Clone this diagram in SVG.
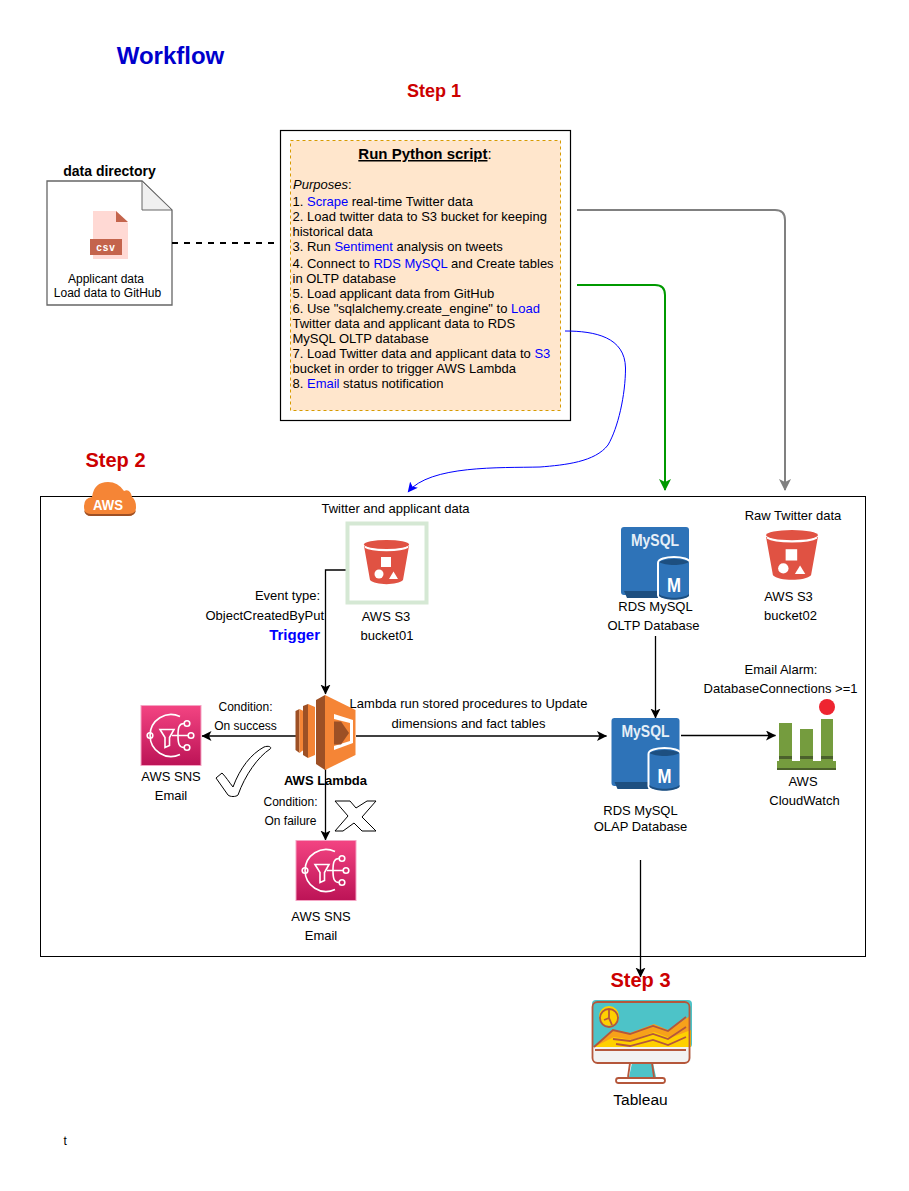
<svg xmlns="http://www.w3.org/2000/svg" width="909" height="1191" viewBox="0 0 909 1191">
<style>
text{font-family:"Liberation Sans",Arial,sans-serif;fill:#000;font-size:13px}
.m{text-anchor:middle}
.s{font-size:13px}
.l12{font-size:12px}
.step{font-size:20px;font-weight:bold;fill:#cc0000;text-anchor:middle}
.b{fill:#0000ff}
.c{fill:none;stroke:#000;stroke-width:1.300}
.bucket{fill:#e05243}
.sns{fill:none;stroke:#fff;stroke-width:1.600}
</style>
<defs>
<marker id="ak" markerWidth="12" markerHeight="12" refX="9.500" refY="5" orient="auto" markerUnits="userSpaceOnUse"><path d="M0 0L10 5L0 10L2.500 5Z" fill="#000"/></marker>
<marker id="ag" markerWidth="14" markerHeight="14" refX="11" refY="6" orient="auto" markerUnits="userSpaceOnUse"><path d="M0 0L12 6L0 12L3 6Z" fill="#009900"/></marker>
<marker id="ay" markerWidth="14" markerHeight="14" refX="11" refY="6" orient="auto" markerUnits="userSpaceOnUse"><path d="M0 0L12 6L0 12L3 6Z" fill="#808080"/></marker>
<marker id="ab" markerWidth="12" markerHeight="12" refX="9.500" refY="5" orient="auto" markerUnits="userSpaceOnUse"><path d="M0 0L10 5L0 10L2.500 5Z" fill="#0000ff"/></marker>
<linearGradient id="pink" x1="0" y1="0" x2="0" y2="1"><stop offset="0" stop-color="#f34482"/><stop offset="1" stop-color="#bc1356"/></linearGradient>
<g id="bucketIcon">
<path class="bucket" d="M0 6C6 12 39 12 45 6L39 40C34 45.500 11 45.500 6 40Z"/>
<ellipse class="bucket" cx="22.500" cy="4.500" rx="22.500" ry="4.500"/>
<path d="M1 7C8 11.500 37 11.500 44 7" fill="none" stroke="#fff" stroke-width="1.500"/>
<rect x="17" y="17" width="10" height="10" fill="#fff"/>
<circle cx="15" cy="34" r="4.500" fill="#fff"/>
<path d="M25 39L29.500 31.500L34 39Z" fill="#fff"/>
</g>
<g id="snsIcon">
<rect width="60" height="60" fill="url(#pink)" stroke="#f5a3c3" stroke-width="1"/>
<path class="sns" d="M39 11A21 21 0 1 0 39 49"/>
<circle class="sns" cx="9" cy="30" r="2.800" fill="#c2185b"/>
<path class="sns" d="M19 24H33L28.500 32V40L24 42V32Z"/>
<path class="sns" d="M31 30H47M43 18C38 18 37 22 37 30C37 38 38 42 43 42"/>
<circle class="sns" cx="46" cy="18" r="2.800"/><circle class="sns" cx="50" cy="30" r="2.800"/><circle class="sns" cx="46" cy="42" r="2.800"/>
</g>
<g id="mysqlIcon">
<path d="M3 0H65Q68 0 68 3V65Q68 68 65 68H3Q0 68 0 65V3Q0 0 3 0Z" fill="#2e73b8"/>
<path d="M3 64H37V71H6Z" fill="#1d4f80"/>
<text x="34" y="19" class="m" style="font-size:16px;font-weight:bold;fill:#e6eff7" textLength="48" lengthAdjust="spacingAndGlyphs">MySQL</text>
<path d="M37 36C37 28 69 28 69 36V68C69 75 37 75 37 68Z" fill="#2e73b8" stroke="#fff" stroke-width="2"/>
<path d="M38 35C44 31 62 31 68 35C62 39 44 39 38 35Z" fill="#1d4f80"/>
<path d="M38 67C44 72 62 72 68 67V69C62 74 44 74 38 69Z" fill="#1d4f80"/>
<text x="53" y="65" class="m" style="font-size:20px;font-weight:bold;fill:#fff" textLength="14" lengthAdjust="spacingAndGlyphs">M</text>
</g>
</defs>

<text x="170.500" y="64" class="m" style="font-size:24px;font-weight:bold;fill:#0000cc">Workflow</text>
<text x="434" y="97" class="step" style="font-size:18px">Step 1</text>
<text x="115.500" y="467" class="step">Step 2</text>

<rect id="awsBoundary" x="40.500" y="496.500" width="825" height="460" fill="#fff" stroke="#000" stroke-width="1"/>

<g id="dataDirectory">
<path d="M47 181H142L172 210V305H47Z" fill="#fff" stroke="#666" stroke-width="1.300"/>
<path d="M142 181V210H172Z" fill="#f0f0f0" stroke="#666" stroke-width="1"/>
<path d="M93 211H116L128 223V259H93Z" fill="#ffd9d4"/>
<path d="M116 211L128 222H116Z" fill="#c4644c"/>
<rect x="90" y="239" width="32" height="16" fill="#c4644c"/>
<text x="106" y="251" class="m" style="font-size:10px;font-weight:bold;fill:#fff;letter-spacing:1px">csv</text>
<text x="109.500" y="176" class="m" style="font-size:14px;font-weight:bold">data directory</text>
<text x="106" y="283" class="m l12">Applicant data</text>
<text x="107.500" y="297" class="m l12">Load data to GitHub</text>
</g>

<g id="pythonScript">
<rect x="280.500" y="130.500" width="290" height="290" fill="#fff" stroke="#000" stroke-width="1.200"/>
<rect x="290.500" y="140.500" width="270" height="270" fill="#ffe6cc" stroke="#d79b00" stroke-width="1" stroke-dasharray="3 3"/>
<text x="425" y="159" class="m" style="font-size:15px"><tspan font-weight="bold" text-decoration="underline">Run Python script</tspan>:</text>
<text x="293" y="189" class="s"><tspan font-style="italic">Purposes</tspan>:</text>
<text x="292.500" y="205.500" class="s">1. <tspan class="b">Scrape</tspan> real-time Twitter data</text>
<text x="292.500" y="220.500" class="s">2. Load twitter data to S3 bucket for keeping</text>
<text x="292.500" y="235.500" class="s">historical data</text>
<text x="292.500" y="250.500" class="s">3. Run <tspan class="b">Sentiment</tspan> analysis on tweets</text>
<text x="292.500" y="268" class="s">4. Connect to <tspan class="b">RDS MySQL</tspan> and Create tables</text>
<text x="292.500" y="283" class="s">in OLTP database</text>
<text x="292.500" y="298" class="s">5. Load applicant data from GitHub</text>
<text x="292.500" y="313" class="s">6. Use "sqlalchemy.create_engine" to <tspan class="b">Load</tspan></text>
<text x="292.500" y="328" class="s">Twitter data and applicant data to RDS</text>
<text x="292.500" y="343" class="s">MySQL OLTP database</text>
<text x="292.500" y="358" class="s">7. Load Twitter data and applicant data to <tspan class="b">S3</tspan></text>
<text x="292.500" y="373" class="s">bucket in order to trigger AWS Lambda</text>
<text x="292.500" y="388" class="s">8. <tspan class="b">Email</tspan> status notification</text>
</g>

<g id="connectors">
<path d="M172 243H280" fill="none" stroke="#000" stroke-width="2" stroke-dasharray="6 6"/>
<path d="M577 210H775Q785 210 785 220V490" fill="none" stroke="#808080" stroke-width="2" marker-end="url(#ay)"/>
<path d="M577 285H655Q665 285 665 295V490" fill="none" stroke="#009900" stroke-width="2" marker-end="url(#ag)"/>
<path d="M565 331C595 331 625 337 625.500 368C625.500 395 618 428 608 445C595 462 565 465 540 467C500 468 430 465 408 492" fill="none" stroke="#0000ff" stroke-width="1" marker-end="url(#ab)"/>
<path class="c" d="M346 570H325.500V694" marker-end="url(#ak)"/>
<path class="c" d="M296 736H202" marker-end="url(#ak)"/>
<path class="c" d="M325.500 768V840" marker-end="url(#ak)"/>
<path class="c" d="M356 736H606.500" marker-end="url(#ak)"/>
<path class="c" d="M655.500 636V718" marker-end="url(#ak)"/>
<path class="c" d="M681 735.500H775.500" marker-end="url(#ak)"/>
<path class="c" d="M640.500 860V977" marker-end="url(#ak)"/>
</g>

<g id="awsLogo">
<path d="M91 516Q84 516 84 506Q84 498 92 497Q94 482 108 482Q118 482 124 491Q130 488 132 497Q136 500 136 507Q136 516 128 516Z" fill="#f58536"/>
<path d="M91 516Q85 516 84 510Q86 514 91 514H128Q134 514 136 510Q135 516 128 516Z" fill="#9d5025"/>
<text x="108" y="510" class="m" style="font-size:15px;font-weight:bold;fill:#fff" textLength="30" lengthAdjust="spacingAndGlyphs">AWS</text>
</g>

<g id="s3Bucket01">
<text x="395.500" y="513" class="m">Twitter and applicant data</text>
<rect x="347.500" y="523.500" width="79" height="79" fill="#fff" stroke="#d5e8d4" stroke-width="4"/>
<use href="#bucketIcon" x="364" y="540"/>
<text x="386" y="621" class="m">AWS S3</text>
<text x="387" y="640" class="m">bucket01</text>
</g>
<g id="eventLabel">
<text x="320" y="600" text-anchor="end">Event type:</text>
<text x="324" y="620" text-anchor="end">ObjectCreatedByPut</text>
<text x="320" y="640" text-anchor="end" style="font-size:15px;font-weight:bold;fill:#0000ff">Trigger</text>
</g>

<g id="rdsOltp">
<use href="#mysqlIcon" x="621" y="527"/>
<text x="655.500" y="611" class="m">RDS MySQL</text>
<text x="653.500" y="630" class="m">OLTP Database</text>
</g>

<g id="s3Bucket02">
<text x="793" y="520" class="m">Raw Twitter data</text>
<use href="#bucketIcon" transform="translate(766 530) scale(1.155 1.130)"/>
<text x="788.500" y="601" class="m">AWS S3</text>
<text x="790.500" y="620" class="m">bucket02</text>
</g>

<g id="lambda">
<path d="M295.500 711L299.500 709V753L295.500 750Z" fill="#9d5025"/>
<path d="M299.500 709L303.500 711V750L299.500 753Z" fill="#f58536"/>
<path d="M303 706L308 704V758L303 755Z" fill="#9d5025"/>
<path d="M308 704L315 707V755L308 758Z" fill="#f58536"/>
<path d="M316 700L325 695V770L316 764Z" fill="#9d5025"/>
<path d="M325 695L355.500 710V755L325 770Z" fill="#f58536"/>
<path d="M334 714L353 720V743L334 750Z" fill="#fff"/>
<path d="M334 719L350 723V741L334 746Z" fill="#f58536"/>
<path d="M334 721.500H341L349 733L341 744.500H334Z" fill="#9d5025"/>
<text x="325.500" y="785" class="m" style="font-weight:bold">AWS Lambda</text>
<text x="468.500" y="708" class="m">Lambda run stored procedures to Update</text>
<text x="468.500" y="728" class="m">dimensions and fact tables</text>
</g>

<g id="snsSuccess">
<use href="#snsIcon" x="141" y="705.500"/>
<text x="171" y="781" class="m">AWS SNS</text>
<text x="171" y="800" class="m">Email</text>
<text x="245.500" y="711" class="m l12">Condition:</text>
<text x="245.500" y="730" class="m l12">On success</text>
</g>
<g id="snsFailure">
<use href="#snsIcon" x="296" y="840.500"/>
<text x="321" y="921" class="m">AWS SNS</text>
<text x="321" y="940" class="m">Email</text>
<text x="290.500" y="806" class="m l12">Condition:</text>
<text x="290.500" y="825" class="m l12">On failure</text>
</g>
<path id="checkMark" d="M216 778L222 773C226 777 229 782 233 787C240 768 251 754 264 747C270 745 272 748 270 749C258 757 245 775 238 795C236 797 230 797 228 795Z" fill="#fff" stroke="#000" stroke-width="1"/>
<path id="crossMark" d="M335 801H350L356 808L367 801H376L362 817L376 831H362L354 823L343 831H335L348 816Z" fill="#fff" stroke="#000" stroke-width="1"/>

<g id="rdsOlap">
<use href="#mysqlIcon" x="611.500" y="718"/>
<text x="640.500" y="815" class="m">RDS MySQL</text>
<text x="640.500" y="831" class="m">OLAP Database</text>
</g>

<g id="cloudWatch">
<rect x="779" y="723" width="13" height="38" fill="#759c3e"/><rect x="779" y="756" width="13" height="3" fill="#4b612c"/>
<rect x="800" y="729" width="13" height="32" fill="#759c3e"/><rect x="800" y="756" width="13" height="3" fill="#4b612c"/>
<rect x="821" y="719" width="12" height="42" fill="#759c3e"/><rect x="821" y="756" width="12" height="3" fill="#4b612c"/>
<rect x="777" y="761" width="59" height="9" fill="#759c3e"/><rect x="777" y="768" width="59" height="2" fill="#4b612c"/>
<circle cx="827" cy="707" r="8" fill="#ee2430"/>
<text x="781" y="674" class="m">Email Alarm:</text>
<text x="780.500" y="693" class="m">DatabaseConnections &gt;=1</text>
<text x="803" y="786" class="m">AWS</text>
<text x="804.500" y="805" class="m">CloudWatch</text>
</g>

<g id="tableau">
<rect x="592" y="1000" width="100" height="48" rx="4" fill="#4dc3c8"/>
<circle cx="609" cy="1016" r="10" fill="#ffd000"/>
<path d="M594 1047L612 1030L630 1033L654 1024L668 1030L690 1016V1047Z" fill="#f7a11a"/>
<path d="M594 1047L614 1037L632 1040L654 1032L670 1038L691 1030V1047Z" fill="#ffd000"/>
<path d="M594 1047H691V1058Q691 1063 686 1063H597Q592 1063 592 1058Z" fill="#f2f2f2"/>
<path d="M632 1063H653L656 1077H629Z" fill="#4dc3c8"/>
<g fill="none" stroke="#b5573b" stroke-width="1.800">
<rect x="592.500" y="1002" width="97" height="61" rx="5"/>
<circle cx="609" cy="1018" r="9"/>
<path d="M609 1009V1018L612 1025M609 1018L604 1020"/>
<path d="M595 1050H686"/>
<path d="M594 1047L613 1030L630 1034L653 1026L668 1031L686 1017M613 1039L630 1041L653 1034L668 1039L686 1027M616 1044L630 1046L653 1040L668 1045L686 1037"/>
<path d="M630 1063L628 1077M652 1063L654 1077"/>
<rect x="616" y="1078" width="49" height="5" rx="2.500"/>
</g>
<text x="640.500" y="1105" class="m" style="font-size:15.500px">Tableau</text>
</g>
<text x="640.500" y="987" class="step">Step 3</text>
<text x="63.500" y="1145" class="l12">t</text>
</svg>
